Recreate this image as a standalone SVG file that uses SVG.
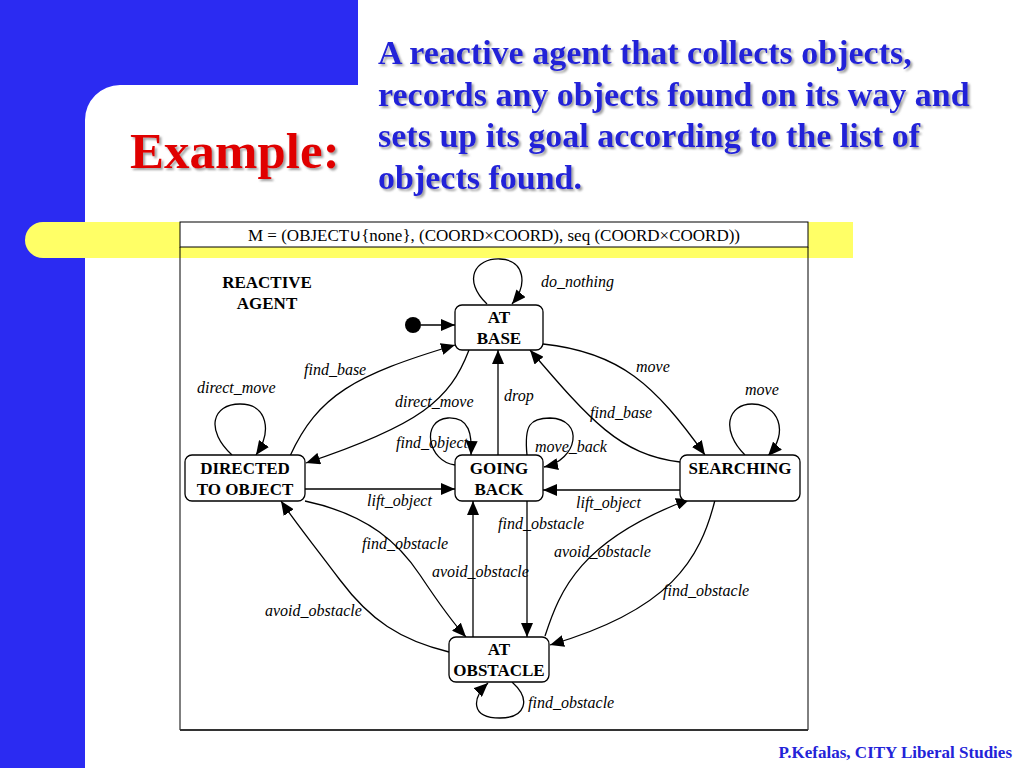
<svg xmlns="http://www.w3.org/2000/svg" width="1024" height="768" viewBox="0 0 1024 768">
<defs>
<marker id="ah" markerUnits="userSpaceOnUse" markerWidth="14" markerHeight="12" viewBox="0 0 14 12" refX="14" refY="6" orient="auto"><path d="M0,0 L14,6 L0,12 Z" fill="#000"/></marker>
<filter id="sh" x="-10%" y="-10%" width="120%" height="130%"><feDropShadow dx="2" dy="2" stdDeviation="1" flood-color="#888" flood-opacity="0.8"/></filter>
</defs>
<style>
.node rect{fill:#fff;stroke:#000;stroke-width:1.3}
.nt{font-family:"Liberation Serif",serif;font-weight:bold;font-size:17px;text-anchor:middle;fill:#000}
.lb{font-family:"Liberation Serif",serif;font-style:italic;font-size:16px;fill:#000}
.e{fill:none;stroke:#000;stroke-width:1.3;marker-end:url(#ah)}
.hd{font-family:"Liberation Serif",serif;font-weight:bold;font-size:34px;fill:#2323D8}
</style>
<rect width="1024" height="768" fill="#fff"/>
<g id="background">
<rect x="0" y="0" width="358" height="85" fill="#2B2BF2"/>
<rect x="0" y="0" width="85" height="768" fill="#2B2BF2"/>
<path d="M85,85 L85,120 A35,35 0 0 1 120,85 Z" fill="#2B2BF2"/>
<path d="M43,222 L853,222 L853,258 L43,258 A18,18 0 0 1 43,222 Z" fill="#FFFF66"/>
</g>
<g id="title">
<text x="130" y="168" font-family="Liberation Serif,serif" font-weight="bold" font-size="51" fill="#E00000" filter="url(#sh)">Example:</text>
<g filter="url(#sh)">
<text class="hd" x="378" y="64">A reactive agent that collects objects,</text>
<text class="hd" x="378" y="106">records any objects found on its way and</text>
<text class="hd" x="378" y="147">sets up its goal according to the list of</text>
<text class="hd" x="378" y="189">objects found.</text>
</g>
</g>
<g id="frame">
<rect x="180" y="222" width="628" height="25" fill="#fff" stroke="#000" stroke-width="1"/>
<path d="M180,247 L180,730 L808,730 L808,247" fill="none" stroke="#000" stroke-width="1"/>
<line x1="180" y1="730" x2="808" y2="730" stroke="#333" stroke-width="2"/>
<rect x="181" y="258" width="626" height="471" fill="#fff"/>
<text x="494" y="241" font-family="Liberation Serif,serif" font-size="17" text-anchor="middle">M = (OBJECT∪{none}, (COORD×COORD), seq (COORD×COORD))</text>
<text class="nt" x="267" y="288">REACTIVE</text>
<text class="nt" x="267" y="309">AGENT</text>
</g>
<g id="connectors">
<circle cx="413" cy="325" r="8" fill="#000"/>
<line class="e" x1="421" y1="325" x2="455" y2="325"/>
<path class="e" d="M487,304 C462,280 475,258 500,259 C525,260 528,285 512,304"/>
<path class="e" d="M543,344 C620,352 655,385 705,455"/>
<path class="e" d="M680,462 C620,455 590,420 530,350"/>
<path class="e" d="M745,455 C720,430 728,404 752,404 C778,404 790,432 768,456"/>
<line class="e" x1="680" y1="490" x2="543" y2="490"/>
<line class="e" x1="305" y1="489" x2="455" y2="489"/>
<path class="e" d="M232,455 C205,430 212,404 240,404 C268,404 272,432 256,455"/>
<path class="e" d="M290,456 C318,395 355,375 455,345"/>
<path class="e" d="M469,350 C450,400 420,425 306,463"/>
<path class="e" d="M455,465 C428,462 420,420 448,418 C470,417 472,435 471,455"/>
<path class="e" d="M527,455 C524,425 530,418 550,418 C585,419 578,460 544,467"/>
<line class="e" x1="498" y1="455" x2="498" y2="350"/>
<line class="e" x1="527" y1="501" x2="527" y2="637"/>
<line class="e" x1="473" y1="637" x2="473" y2="501"/>
<path class="e" d="M305,501 C370,515 400,545 420,575 C440,605 452,622 466,637"/>
<path class="e" d="M449,652 C400,640 370,620 340,580 C310,540 295,522 281,501"/>
<path class="e" d="M545,636 C560,590 580,540 690,499"/>
<path class="e" d="M715,500 C700,560 670,610 550,645"/>
<path class="e" d="M512,682 C532,700 525,718 500,718 C470,718 472,698 488,683"/>
<text class="lb" x="541" y="287">do_nothing</text>
<text class="lb" x="636" y="372">move</text>
<text class="lb" x="590" y="418">find_base</text>
<text class="lb" x="745" y="395">move</text>
<text class="lb" x="576" y="508">lift_object</text>
<text class="lb" x="367" y="506">lift_object</text>
<text class="lb" x="197" y="393">direct_move</text>
<text class="lb" x="304" y="375">find_base</text>
<text class="lb" x="395" y="407">direct_move</text>
<text class="lb" x="396" y="448">find_object</text>
<text class="lb" x="535" y="452">move_back</text>
<text class="lb" x="504" y="401">drop</text>
<text class="lb" x="498" y="529">find_obstacle</text>
<text class="lb" x="432" y="577">avoid_obstacle</text>
<text class="lb" x="362" y="549">find_obstacle</text>
<text class="lb" x="265" y="616">avoid_obstacle</text>
<text class="lb" x="554" y="557">avoid_obstacle</text>
<text class="lb" x="663" y="596">find_obstacle</text>
<text class="lb" x="528" y="708">find_obstacle</text>
</g>
<g id="at_base" class="node"><rect x="455" y="305" width="88" height="45" rx="7"/><text class="nt" x="499" y="323">AT</text><text class="nt" x="499" y="344">BASE</text></g>
<g id="directed" class="node"><rect x="185" y="455" width="120" height="46" rx="7"/><text class="nt" x="245" y="474">DIRECTED</text><text class="nt" x="245" y="495">TO OBJECT</text></g>
<g id="going_back" class="node"><rect x="455" y="455" width="88" height="46" rx="7"/><text class="nt" x="499" y="474">GOING</text><text class="nt" x="499" y="495">BACK</text></g>
<g id="searching" class="node"><rect x="680" y="455" width="120" height="46" rx="7"/><text class="nt" x="740" y="474">SEARCHING</text></g>
<g id="at_obstacle" class="node"><rect x="449" y="637" width="100" height="45" rx="7"/><text class="nt" x="499" y="655">AT</text><text class="nt" x="499" y="676">OBSTACLE</text></g>
<text x="1012" y="758" font-family="Liberation Serif,serif" font-weight="bold" font-size="17" fill="#2323D8" text-anchor="end">P.Kefalas, CITY Liberal Studies</text>
</svg>
